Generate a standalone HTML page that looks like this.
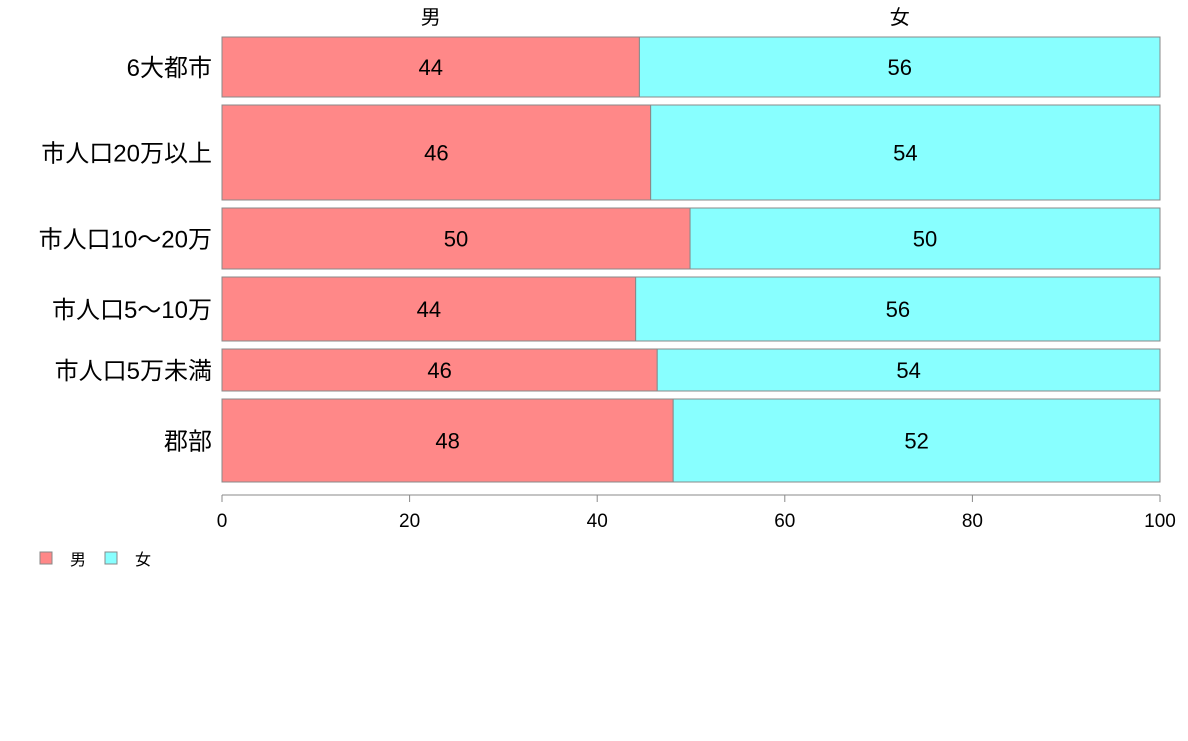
<!DOCTYPE html>
<html><head><meta charset="utf-8">
<style>
body{margin:0;background:#fff;}
svg text{font-family:"Liberation Sans","Noto Sans CJK JP",sans-serif;}
</style></head>
<body>
<svg id="chart" width="1188" height="736" xmlns="http://www.w3.org/2000/svg"></svg>
<script>
const categories = ["6大都市","市人口20万以上","市人口10〜20万","市人口5〜10万","市人口5万未満","郡部"];
const maleShare = [44.5, 45.7, 49.9, 44.1, 46.4, 48.1];
const maleLabels = ["44","46","50","44","46","48"];
const femaleLabels = ["56","54","50","56","54","52"];
const weights = [60, 95, 61, 64, 42, 83];
const xTicks = [0,20,40,60,80,100];

const svg = document.getElementById('chart');
const NS = 'http://www.w3.org/2000/svg';
const x0 = 222, x1 = 1160, yTop = 37, yBot = 482, gap = 8;
const xs = v => x0 + (x1 - x0) * v / 100;
const totalW = weights.reduce((a,b)=>a+b,0);
const unitH = (yBot - yTop - gap*(categories.length-1)) / totalW;
function mk(tag, attrs, txt){const e=document.createElementNS(NS,tag);for(const k in attrs)e.setAttribute(k,attrs[k]);if(txt!==undefined)e.textContent=txt;svg.appendChild(e);return e;}

let y = yTop;
categories.forEach((c,i)=>{
  const h = weights[i]*unitH;
  const xm = xs(maleShare[i]);
  const r1 = mk('rect',{x:x0,y:y,width:xm-x0,height:h,fill:'#FF8888',stroke:'#888','stroke-width':1});
  
  
  const r2 = mk('rect',{x:xm,y:y,width:x1-xm,height:h,fill:'#88FFFF',stroke:'#888','stroke-width':1});
  
  
  const t1 = mk('text',{x:(x0+xm)/2,y:y+h/2+8,'font-size':22,'text-anchor':'middle'},maleLabels[i]);
  
  
  const t2 = mk('text',{x:(xm+x1)/2,y:y+h/2+8,'font-size':22,'text-anchor':'middle'},femaleLabels[i]);
  
  
  const cl = mk('text',{x:212,y:y+h/2+9,'font-size':24,'text-anchor':'end'},c);
  
  
  if(i===0){
    const a = mk('text',{x:(x0+xm)/2,y:24,'font-size':20,'text-anchor':'middle'},'男');
    
    
    const b = mk('text',{x:(xm+x1)/2,y:24,'font-size':20,'text-anchor':'middle'},'女');
    
    
  }
  y += h + gap;
});

const ax = mk('line',{x1:x0,y1:495,x2:x1,y2:495,stroke:'#888','stroke-width':1});


xTicks.forEach(v=>{
  const tk = mk('line',{x1:xs(v),y1:495,x2:xs(v),y2:502,stroke:'#888','stroke-width':1});
  
  
  const tl = mk('text',{x:xs(v),y:527,'font-size':19,'text-anchor':'middle'},String(v));
  
  
});

const l1 = mk('rect',{x:40,y:552,width:12,height:12,fill:'#FF8888',stroke:'#888'});


const l2 = mk('text',{x:70,y:565,'font-size':16},'男');


const l3 = mk('rect',{x:105,y:552,width:12,height:12,fill:'#88FFFF',stroke:'#888'});


const l4 = mk('text',{x:135,y:565,'font-size':16},'女');


</script>
</body></html>
